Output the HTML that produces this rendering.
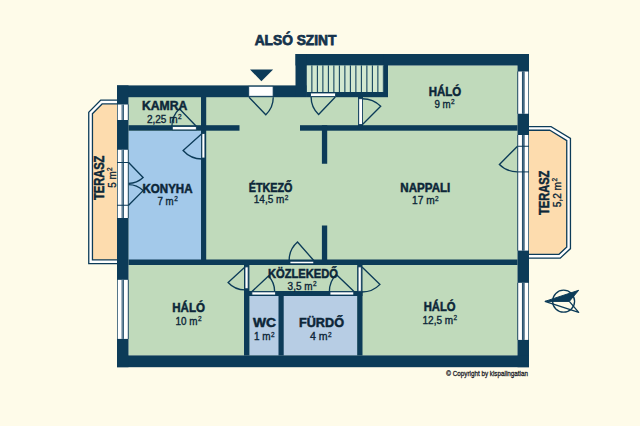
<!DOCTYPE html>
<html><head><meta charset="utf-8"><style>
html,body{margin:0;padding:0;background:#fefbe9;overflow:hidden;width:640px;height:426px;}
svg{display:block;font-family:"Liberation Sans",sans-serif;}
</style></head><body>
<svg width="640" height="426" viewBox="0 0 640 426">
<rect width="640" height="426" fill="#fefbe9"/>
<rect x="128.50" y="97.00" width="389.00" height="258.50" fill="#c0dabb" />
<rect x="306.50" y="65.50" width="211.00" height="31.50" fill="#c0dabb" />
<rect x="128.50" y="130.70" width="72.50" height="129.30" fill="#a3c9ea" />
<rect x="249.40" y="295.80" width="107.80" height="59.70" fill="#b7cde4" />
<path d="M120.00,102.00 L101.50,102.00 L90.60,113.00 L90.60,261.70 L120.00,261.70 Z" fill="#fddcae" stroke="none"/>
<path d="M120.00,102.00 L101.50,102.00 L90.60,113.00 L90.60,261.70 L120.00,261.70" fill="none" stroke="#0c3b58" stroke-width="5" stroke-linejoin="miter"/>
<path d="M120.00,102.00 L101.50,102.00 L90.60,113.00 L90.60,261.70 L120.00,261.70" fill="none" stroke="#ffffff" stroke-width="2.4" stroke-linejoin="miter"/>
<path d="M526.00,128.40 L550.50,128.40 L568.60,139.50 L568.60,247.80 L559.50,256.30 L526.00,256.30 Z" fill="#fddcae" stroke="none"/>
<path d="M526.00,128.40 L550.50,128.40 L568.60,139.50 L568.60,247.80 L559.50,256.30 L526.00,256.30" fill="none" stroke="#0c3b58" stroke-width="5" stroke-linejoin="miter"/>
<path d="M526.00,128.40 L550.50,128.40 L568.60,139.50 L568.60,247.80 L559.50,256.30 L526.00,256.30" fill="none" stroke="#ffffff" stroke-width="2.4" stroke-linejoin="miter"/>
<rect x="117.00" y="85.40" width="189.80" height="11.80" fill="#0c3b58" />
<rect x="295.50" y="54.00" width="92.50" height="11.50" fill="#0c3b58" />
<rect x="295.50" y="54.00" width="11.30" height="43.00" fill="#0c3b58" />
<rect x="383.70" y="54.00" width="4.30" height="43.00" fill="#0c3b58" />
<rect x="306.80" y="92.00" width="81.20" height="5.20" fill="#0c3b58" />
<rect x="388.00" y="54.00" width="141.00" height="11.50" fill="#0c3b58" />
<rect x="517.50" y="54.00" width="11.50" height="313.20" fill="#0c3b58" />
<rect x="117.00" y="355.40" width="412.00" height="11.80" fill="#0c3b58" />
<rect x="117.00" y="85.40" width="11.50" height="281.80" fill="#0c3b58" />
<rect x="201.00" y="97.00" width="5.20" height="167.50" fill="#0c3b58" />
<rect x="128.50" y="125.20" width="111.00" height="5.50" fill="#0c3b58" />
<rect x="300.00" y="125.20" width="217.50" height="5.50" fill="#0c3b58" />
<rect x="321.90" y="125.20" width="5.30" height="38.55" fill="#0c3b58" />
<rect x="358.00" y="97.00" width="5.00" height="31.00" fill="#0c3b58" />
<rect x="128.50" y="259.50" width="389.00" height="5.50" fill="#0c3b58" />
<rect x="321.90" y="225.50" width="5.30" height="39.00" fill="#0c3b58" />
<rect x="244.00" y="260.00" width="5.40" height="95.50" fill="#0c3b58" />
<rect x="357.20" y="260.00" width="5.30" height="95.50" fill="#0c3b58" />
<rect x="244.00" y="291.00" width="118.50" height="5.00" fill="#0c3b58" />
<rect x="278.50" y="291.00" width="5.20" height="64.50" fill="#0c3b58" />
<rect x="306.80" y="65.50" width="76.90" height="26.50" fill="#0c3b58" />
<rect x="306.90" y="65.50" width="4.45" height="26.50" fill="#d2e8d0" />
<rect x="312.40" y="65.50" width="4.45" height="26.50" fill="#d2e8d0" />
<rect x="317.90" y="65.50" width="4.45" height="26.50" fill="#d2e8d0" />
<rect x="323.40" y="65.50" width="4.45" height="26.50" fill="#d2e8d0" />
<rect x="328.90" y="65.50" width="4.45" height="26.50" fill="#d2e8d0" />
<rect x="334.40" y="65.50" width="4.45" height="26.50" fill="#d2e8d0" />
<rect x="339.90" y="65.50" width="4.45" height="26.50" fill="#d2e8d0" />
<rect x="345.40" y="65.50" width="4.45" height="26.50" fill="#d2e8d0" />
<rect x="350.90" y="65.50" width="4.45" height="26.50" fill="#d2e8d0" />
<rect x="356.40" y="65.50" width="4.45" height="26.50" fill="#d2e8d0" />
<rect x="361.90" y="65.50" width="4.45" height="26.50" fill="#d2e8d0" />
<rect x="367.40" y="65.50" width="4.45" height="26.50" fill="#d2e8d0" />
<rect x="372.90" y="65.50" width="4.45" height="26.50" fill="#d2e8d0" />
<rect x="378.40" y="65.50" width="4.45" height="26.50" fill="#d2e8d0" />
<rect x="117.00" y="104.50" width="11.50" height="15.50" fill="#0c3b58" />
<rect x="117.70" y="104.50" width="10.10" height="15.50" fill="#ffffff" />
<rect x="121.65" y="104.50" width="2.20" height="15.50" fill="#0c3b58" />
<rect x="122.40" y="104.50" width="0.70" height="15.50" fill="#a3b8c8" />
<rect x="117.00" y="149.75" width="11.50" height="68.25" fill="#0c3b58" />
<rect x="117.70" y="149.75" width="10.10" height="68.25" fill="#ffffff" />
<rect x="121.65" y="149.75" width="2.20" height="68.25" fill="#0c3b58" />
<rect x="122.40" y="149.75" width="0.70" height="68.25" fill="#a3b8c8" />
<rect x="117.00" y="162.00" width="11.50" height="1.00" fill="#0c3b58" />
<rect x="117.00" y="204.75" width="11.50" height="1.00" fill="#0c3b58" />
<rect x="117.00" y="279.80" width="11.50" height="59.10" fill="#0c3b58" />
<rect x="117.70" y="279.80" width="10.10" height="59.10" fill="#ffffff" />
<rect x="121.65" y="279.80" width="2.20" height="59.10" fill="#0c3b58" />
<rect x="122.40" y="279.80" width="0.70" height="59.10" fill="#a3b8c8" />
<rect x="517.50" y="71.50" width="11.50" height="42.25" fill="#0c3b58" />
<rect x="518.20" y="71.50" width="10.10" height="42.25" fill="#ffffff" />
<rect x="521.95" y="71.50" width="2.60" height="42.25" fill="#0c3b58" />
<rect x="522.55" y="71.50" width="1.40" height="42.25" fill="#4a6d88" />
<rect x="517.50" y="135.00" width="11.50" height="115.60" fill="#0c3b58" />
<rect x="518.20" y="135.00" width="10.10" height="115.60" fill="#ffffff" />
<rect x="521.95" y="135.00" width="2.60" height="115.60" fill="#0c3b58" />
<rect x="522.55" y="135.00" width="1.40" height="115.60" fill="#4a6d88" />
<rect x="517.50" y="145.75" width="11.50" height="1.00" fill="#0c3b58" />
<rect x="517.50" y="171.40" width="11.50" height="1.00" fill="#0c3b58" />
<rect x="517.50" y="282.80" width="11.50" height="57.10" fill="#0c3b58" />
<rect x="518.20" y="282.80" width="10.10" height="57.10" fill="#ffffff" />
<rect x="521.95" y="282.80" width="2.60" height="57.10" fill="#0c3b58" />
<rect x="522.55" y="282.80" width="1.40" height="57.10" fill="#4a6d88" />
<rect x="248.75" y="86.25" width="24.35" height="10.00" fill="#ffffff" stroke="#0c3b58" stroke-width="0.8"/>
<rect x="310.60" y="93.00" width="24.90" height="3.50" fill="#ffffff" stroke="#0c3b58" stroke-width="0.8"/>
<rect x="358.75" y="98.75" width="3.75" height="25.75" fill="#ffffff" stroke="#0c3b58" stroke-width="0.8"/>
<rect x="172.30" y="126.60" width="24.00" height="3.30" fill="#ffffff" stroke="#0c3b58" stroke-width="0.8"/>
<rect x="201.90" y="133.60" width="3.00" height="24.40" fill="#ffffff" stroke="#0c3b58" stroke-width="0.8"/>
<rect x="290.00" y="261.25" width="23.75" height="2.50" fill="#ffffff" stroke="#0c3b58" stroke-width="0.8"/>
<rect x="245.00" y="266.90" width="3.10" height="21.85" fill="#ffffff" stroke="#0c3b58" stroke-width="0.8"/>
<rect x="358.10" y="266.90" width="3.15" height="24.35" fill="#ffffff" stroke="#0c3b58" stroke-width="0.8"/>
<rect x="251.90" y="291.90" width="23.70" height="3.10" fill="#ffffff" stroke="#0c3b58" stroke-width="0.8"/>
<rect x="330.00" y="291.90" width="23.75" height="3.10" fill="#ffffff" stroke="#0c3b58" stroke-width="0.8"/>
<path d="M249.00,97.20 L265.80,114.70 A24.26,24.26 0 0 0 273.26,97.20" fill="none" stroke="#0c3b58" stroke-width="1.35"/>
<path d="M335.30,97.00 L318.60,114.50 A24.19,24.19 0 0 1 311.11,97.00" fill="none" stroke="#0c3b58" stroke-width="1.35"/>
<path d="M362.50,124.50 L380.70,106.30 A25.74,25.74 0 0 0 362.50,98.76" fill="none" stroke="#0c3b58" stroke-width="1.35"/>
<path d="M196.50,126.50 L179.40,108.80 A24.61,24.61 0 0 0 171.89,126.50" fill="none" stroke="#0c3b58" stroke-width="1.35"/>
<path d="M202.00,133.60 L183.10,150.50 A25.35,25.35 0 0 0 202.00,158.95" fill="none" stroke="#0c3b58" stroke-width="1.35"/>
<path d="M313.75,260.50 L297.50,242.00 A24.62,24.62 0 0 0 289.13,260.50" fill="none" stroke="#0c3b58" stroke-width="1.35"/>
<path d="M245.00,267.00 L228.10,282.50 A22.93,22.93 0 0 0 245.00,289.93" fill="none" stroke="#0c3b58" stroke-width="1.35"/>
<path d="M362.00,267.00 L380.00,284.40 A25.04,25.04 0 0 1 362.00,292.04" fill="none" stroke="#0c3b58" stroke-width="1.35"/>
<path d="M252.00,291.50 L268.50,276.00 A22.64,22.64 0 0 1 274.64,291.50" fill="none" stroke="#0c3b58" stroke-width="1.35"/>
<path d="M354.00,291.50 L336.30,274.40 A24.61,24.61 0 0 0 329.39,291.50" fill="none" stroke="#0c3b58" stroke-width="1.35"/>
<path d="M517.30,146.50 L499.40,164.40 A25.31,25.31 0 0 0 517.30,171.81" fill="none" stroke="#0c3b58" stroke-width="1.35"/>
<path d="M128.60,162.50 L143.10,177.50 A20.86,20.86 0 0 1 128.60,183.36" fill="none" stroke="#0c3b58" stroke-width="1.35"/>
<path d="M128.60,205.25 L143.10,190.60 A20.61,20.61 0 0 0 128.60,184.64" fill="none" stroke="#0c3b58" stroke-width="1.35"/>
<path d="M250,69.4 L273.1,69.4 L261.4,81.3 Z" fill="#0c3b58"/>
<circle cx="563.6" cy="301.2" r="11" fill="none" stroke="#0c3b58" stroke-width="1.3"/>
<path d="M544.9,301.4 L578.7,290.3 L569.3,301.4 Z" fill="#0c3b58" stroke="#0c3b58" stroke-width="1" stroke-linejoin="round"/>
<path d="M544.9,301.4 L578.7,312.4 L569.3,301.4" fill="none" stroke="#0c3b58" stroke-width="1.3" stroke-linejoin="round"/>
<text x="254.70" y="45.30" font-size="14.1" font-weight="bold" textLength="81.70" lengthAdjust="spacingAndGlyphs" fill="#15324c" stroke="#15324c" stroke-width="0.75">ALSÓ SZINT</text>
<text x="141.90" y="110.30" font-size="12.8" font-weight="bold" textLength="45.35" lengthAdjust="spacingAndGlyphs" fill="#0c2638" stroke="#0c2638" stroke-width="0.5">KAMRA</text>
<text x="146.90" y="122.60" font-size="10.0" font-weight="normal" textLength="30.60" lengthAdjust="spacingAndGlyphs" fill="#0c2638" stroke="#0c2638" stroke-width="0.35">2,25 m</text>
<text x="178.00" y="119.20" font-size="6.80" textLength="3.60" lengthAdjust="spacingAndGlyphs" fill="#0c2638" stroke="#0c2638" stroke-width="0.3">2</text>
<text x="142.50" y="192.75" font-size="12.8" font-weight="bold" textLength="50.00" lengthAdjust="spacingAndGlyphs" fill="#0c2638" stroke="#0c2638" stroke-width="0.5">KONYHA</text>
<text x="157.50" y="204.75" font-size="10.0" font-weight="normal" textLength="16.20" lengthAdjust="spacingAndGlyphs" fill="#0c2638" stroke="#0c2638" stroke-width="0.35">7 m</text>
<text x="174.20" y="201.35" font-size="6.80" textLength="3.60" lengthAdjust="spacingAndGlyphs" fill="#0c2638" stroke="#0c2638" stroke-width="0.3">2</text>
<text x="248.75" y="191.90" font-size="12.8" font-weight="bold" textLength="43.75" lengthAdjust="spacingAndGlyphs" fill="#0c2638" stroke="#0c2638" stroke-width="0.5">ÉTKEZŐ</text>
<text x="253.75" y="203.10" font-size="10.0" font-weight="normal" textLength="30.60" lengthAdjust="spacingAndGlyphs" fill="#0c2638" stroke="#0c2638" stroke-width="0.35">14,5 m</text>
<text x="284.85" y="199.70" font-size="6.80" textLength="3.60" lengthAdjust="spacingAndGlyphs" fill="#0c2638" stroke="#0c2638" stroke-width="0.3">2</text>
<text x="400.30" y="191.90" font-size="12.8" font-weight="bold" textLength="50.00" lengthAdjust="spacingAndGlyphs" fill="#0c2638" stroke="#0c2638" stroke-width="0.5">NAPPALI</text>
<text x="412.00" y="204.40" font-size="10.0" font-weight="normal" textLength="22.60" lengthAdjust="spacingAndGlyphs" fill="#0c2638" stroke="#0c2638" stroke-width="0.35">17 m</text>
<text x="435.10" y="201.00" font-size="6.80" textLength="3.60" lengthAdjust="spacingAndGlyphs" fill="#0c2638" stroke="#0c2638" stroke-width="0.3">2</text>
<text x="428.75" y="95.60" font-size="12.8" font-weight="bold" textLength="32.50" lengthAdjust="spacingAndGlyphs" fill="#0c2638" stroke="#0c2638" stroke-width="0.5">HÁLÓ</text>
<text x="434.40" y="107.75" font-size="10.0" font-weight="normal" textLength="16.20" lengthAdjust="spacingAndGlyphs" fill="#0c2638" stroke="#0c2638" stroke-width="0.35">9 m</text>
<text x="451.10" y="104.35" font-size="6.80" textLength="3.60" lengthAdjust="spacingAndGlyphs" fill="#0c2638" stroke="#0c2638" stroke-width="0.3">2</text>
<text x="172.25" y="311.90" font-size="12.8" font-weight="bold" textLength="32.75" lengthAdjust="spacingAndGlyphs" fill="#0c2638" stroke="#0c2638" stroke-width="0.5">HÁLÓ</text>
<text x="175.60" y="324.60" font-size="10.0" font-weight="normal" textLength="21.90" lengthAdjust="spacingAndGlyphs" fill="#0c2638" stroke="#0c2638" stroke-width="0.35">10 m</text>
<text x="198.00" y="321.20" font-size="6.80" textLength="3.60" lengthAdjust="spacingAndGlyphs" fill="#0c2638" stroke="#0c2638" stroke-width="0.3">2</text>
<text x="423.75" y="310.60" font-size="12.8" font-weight="bold" textLength="31.85" lengthAdjust="spacingAndGlyphs" fill="#0c2638" stroke="#0c2638" stroke-width="0.5">HÁLÓ</text>
<text x="422.50" y="323.50" font-size="10.0" font-weight="normal" textLength="30.60" lengthAdjust="spacingAndGlyphs" fill="#0c2638" stroke="#0c2638" stroke-width="0.35">12,5 m</text>
<text x="453.60" y="320.10" font-size="6.80" textLength="3.60" lengthAdjust="spacingAndGlyphs" fill="#0c2638" stroke="#0c2638" stroke-width="0.3">2</text>
<text x="267.90" y="277.50" font-size="12.8" font-weight="bold" textLength="70.10" lengthAdjust="spacingAndGlyphs" fill="#0c2638" stroke="#0c2638" stroke-width="0.5">KÖZLEKEDŐ</text>
<text x="287.60" y="289.85" font-size="10.0" font-weight="normal" textLength="24.90" lengthAdjust="spacingAndGlyphs" fill="#0c2638" stroke="#0c2638" stroke-width="0.35">3,5 m</text>
<text x="313.00" y="286.45" font-size="6.80" textLength="3.60" lengthAdjust="spacingAndGlyphs" fill="#0c2638" stroke="#0c2638" stroke-width="0.3">2</text>
<text x="253.00" y="327.20" font-size="12.8" font-weight="bold" textLength="23.00" lengthAdjust="spacingAndGlyphs" fill="#0c2638" stroke="#0c2638" stroke-width="0.5">WC</text>
<text x="254.00" y="339.90" font-size="10.0" font-weight="normal" textLength="16.60" lengthAdjust="spacingAndGlyphs" fill="#0c2638" stroke="#0c2638" stroke-width="0.35">1 m</text>
<text x="271.10" y="336.50" font-size="6.80" textLength="3.60" lengthAdjust="spacingAndGlyphs" fill="#0c2638" stroke="#0c2638" stroke-width="0.3">2</text>
<text x="299.00" y="327.20" font-size="12.8" font-weight="bold" textLength="45.00" lengthAdjust="spacingAndGlyphs" fill="#0c2638" stroke="#0c2638" stroke-width="0.5">FÜRDŐ</text>
<text x="310.00" y="339.90" font-size="10.0" font-weight="normal" textLength="17.60" lengthAdjust="spacingAndGlyphs" fill="#0c2638" stroke="#0c2638" stroke-width="0.35">4 m</text>
<text x="328.10" y="336.50" font-size="6.80" textLength="3.60" lengthAdjust="spacingAndGlyphs" fill="#0c2638" stroke="#0c2638" stroke-width="0.3">2</text>
<g transform="translate(104.4,200) rotate(-90)">
<text x="0.00" y="0.00" font-size="14.2" font-weight="bold" textLength="44.30" lengthAdjust="spacingAndGlyphs" fill="#0c2638" stroke="#0c2638" stroke-width="0.5">TERASZ</text>
</g>
<g transform="translate(115.8,187.7) rotate(-90)">
<text x="0.00" y="0.00" font-size="10.0" font-weight="normal" textLength="16.30" lengthAdjust="spacingAndGlyphs" fill="#0c2638" stroke="#0c2638" stroke-width="0.35">5 m</text>
<text x="16.80" y="-3.40" font-size="6.80" textLength="3.60" lengthAdjust="spacingAndGlyphs" fill="#0c2638" stroke="#0c2638" stroke-width="0.3">2</text>
</g>
<g transform="translate(548.6,215) rotate(-90)">
<text x="0.00" y="0.00" font-size="14.2" font-weight="bold" textLength="44.30" lengthAdjust="spacingAndGlyphs" fill="#0c2638" stroke="#0c2638" stroke-width="0.5">TERASZ</text>
</g>
<g transform="translate(560.8,207.3) rotate(-90)">
<text x="0.00" y="0.00" font-size="10.0" font-weight="normal" textLength="25.30" lengthAdjust="spacingAndGlyphs" fill="#0c2638" stroke="#0c2638" stroke-width="0.35">5,2 m</text>
<text x="25.80" y="-3.40" font-size="6.80" textLength="3.60" lengthAdjust="spacingAndGlyphs" fill="#0c2638" stroke="#0c2638" stroke-width="0.3">2</text>
</g>
<text x="446.3" y="376" font-size="7.4" font-weight="normal" stroke="#1c2228" stroke-width="0.3" textLength="81.7" lengthAdjust="spacingAndGlyphs" fill="#1c2228">© Copyright by kispalingatlan</text>
</svg>
</body></html>
